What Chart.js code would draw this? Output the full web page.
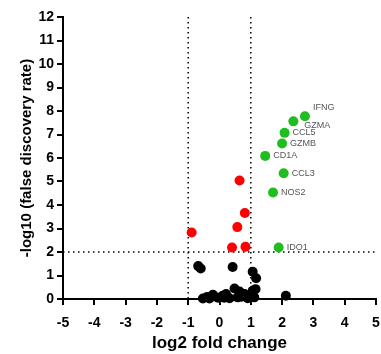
<!DOCTYPE html>
<html>
<head>
<meta charset="utf-8">
<script src="https://cdn.jsdelivr.net/npm/chart.js@4.4.1/dist/chart.umd.min.js"></script>
<style>
  html, body { margin: 0; padding: 0; background: #fff; }
  #wrap { width: 381px; height: 354px; }
</style>
</head>
<body>
<div id="wrap"><canvas id="volcano"></canvas></div>
<script>
// significant, labelled genes (green)
const upGenes = ['IFNG', 'GZMA', 'CCL5', 'GZMB', 'CD1A', 'CCL3', 'NOS2', 'IDO1'];
const upFold  = [2.73, 2.36, 2.08, 2.00, 1.46, 2.05, 1.71, 1.89];
const upFdr   = [7.78, 7.56, 7.07, 6.62, 6.09, 5.35, 4.53, 2.19];

// significant but small fold change (red)
const redFold = [0.64, 0.81, 0.57, -0.89, 0.40, 0.83];
const redFdr  = [5.04, 3.66, 3.06, 2.83, 2.19, 2.22];

// not significant (black)
const nsFold = [-0.68, -0.60, 0.42, 1.06, 1.17, 1.15, 2.12, -0.53, -0.21, 0.10, 0.21, 0.48, 0.64,
                0.80, 0.96, 1.06, -0.32, -0.05, 0.32, 0.58, 0.90, 1.11, -0.40, 0.70, 0.15];
const nsFdr  = [1.40, 1.30, 1.36, 1.16, 0.88, 0.42, 0.14, 0.02, 0.18, 0.14, 0.21, 0.45, 0.32,
                0.21, 0.14, 0.35, 0.02, 0.05, 0.03, 0.07, 0.03, 0.07, 0.08, 0.10, 0.05];

const xTicks = [-5, -4, -3, -2, -1, 0, 1, 2, 3, 4, 5];
const yTicks = [0, 1, 2, 3, 4, 5, 6, 7, 8, 9, 10, 11, 12];
const foldCut = [-1, 1];
const fdrCut = 2;

const toPoints = (xs, ys) => xs.map((x, i) => ({ x: x, y: ys[i] }));

const FONT = 'Arial, "Liberation Sans", sans-serif';

// label offsets (px) next to each green point
const labelShift = {
  IFNG: [8, -9], GZMA: [11, 4]
};

// dotted cut-off lines, drawn under the points
const cutLines = {
  id: 'cutLines',
  beforeDatasetsDraw(chart) {
    const { ctx, scales: { x, y } } = chart;
    ctx.save();
    ctx.strokeStyle = '#000';
    ctx.lineWidth = 1.5;
    ctx.setLineDash([1.5, 3.5]);
    foldCut.forEach(v => {
      ctx.beginPath();
      ctx.moveTo(x.getPixelForValue(v), y.getPixelForValue(12));
      ctx.lineTo(x.getPixelForValue(v), y.getPixelForValue(0));
      ctx.stroke();
    });
    ctx.beginPath();
    ctx.moveTo(x.getPixelForValue(-5), y.getPixelForValue(fdrCut));
    ctx.lineTo(x.getPixelForValue(5), y.getPixelForValue(fdrCut));
    ctx.stroke();
    ctx.restore();
  }
};

// gene names next to green points
const geneLabels = {
  id: 'geneLabels',
  afterDatasetsDraw(chart) {
    const { ctx, scales: { x, y } } = chart;
    ctx.save();
    ctx.font = '9px ' + FONT;
    ctx.fillStyle = '#555';
    ctx.textBaseline = 'middle';
    upGenes.forEach((g, i) => {
      const s = labelShift[g] || [8, 0];
      ctx.fillText(g, x.getPixelForValue(upFold[i]) + s[0], y.getPixelForValue(upFdr[i]) + s[1]);
    });
    ctx.restore();
  }
};

const ctx = document.getElementById('volcano');
new Chart(ctx, {
  type: 'scatter',
  data: {
    datasets: [
      { data: toPoints(nsFold, nsFdr), backgroundColor: '#000', borderColor: '#000' },
      { data: toPoints(redFold, redFdr), backgroundColor: '#ff0000', borderColor: '#ff0000' },
      { data: toPoints(upFold, upFdr), backgroundColor: '#1fbd1f', borderColor: '#1fbd1f' }
    ]
  },
  options: {
    responsive: true,
    maintainAspectRatio: false,
    animation: false,
    layout: { padding: { top: 17, right: 0, left: 18, bottom: 0 } },
    elements: { point: { radius: 5, borderWidth: 0, hoverRadius: 5 } },
    datasets: { scatter: { clip: false } },
    plugins: { legend: { display: false }, tooltip: { enabled: false } },
    scales: {
      x: {
        type: 'linear', min: -5, max: 5,
        afterBuildTicks: s => { s.ticks = xTicks.map(v => ({ value: v })); },
        afterFit: s => { s.height = 55; s.paddingRight = 4; },
        grid: { drawOnChartArea: false, drawTicks: true, tickLength: 6, color: '#000', lineWidth: 2 },
        border: { color: '#000', width: 2 },
        ticks: { color: '#000', font: { family: FONT, size: 14, weight: 'bold' }, padding: 10, maxRotation: 0 },
        title: { display: true, text: 'log2 fold change', color: '#000',
                 font: { family: FONT, size: 17, weight: 'bold' }, padding: { top: 0, bottom: 0 } }
      },
      y: {
        type: 'linear', min: 0, max: 12,
        afterBuildTicks: s => { s.ticks = yTicks.map(v => ({ value: v })); },
        afterFit: s => { s.width = 45; },
        grid: { drawOnChartArea: false, drawTicks: true, tickLength: 6, color: '#000', lineWidth: 2 },
        border: { color: '#000', width: 2 },
        ticks: { color: '#000', font: { family: FONT, size: 14, weight: 'bold' }, padding: 3 },
        title: { display: true, text: '-log10 (false discovery rate)', color: '#000',
                 font: { family: FONT, size: 15, weight: 'bold' }, padding: { top: 0, bottom: 0 } }
      }
    }
  },
  plugins: [cutLines, geneLabels]
});
</script>
</body>
</html>
